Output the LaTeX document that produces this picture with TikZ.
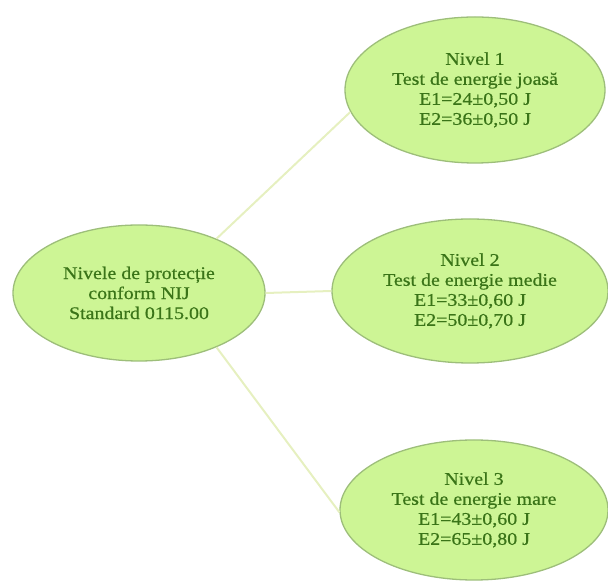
\documentclass[tikz,border=0pt]{standalone}
\usepackage{fontspec}
\setmainfont{Liberation Serif}[FakeStretch=1.12,FakeBold=0.6]
\usetikzlibrary{shapes.geometric}
\definecolor{efill}{HTML}{CDF595}
\definecolor{edraw}{HTML}{9DBE7A}
\definecolor{etext}{HTML}{3A7418}
\definecolor{lcol}{HTML}{E6F0C0}
\begin{document}
\begin{tikzpicture}[x=1pt,y=1pt,
  ell/.style={ellipse, draw=edraw, fill=efill, line width=1.3pt, inner sep=0pt,
    text=etext, align=center, font=\fontsize{17.8}{20}\selectfont},
  conn/.style={draw=lcol, line width=2pt}]
\useasboundingbox (0,0) rectangle (608,581);
\node[ell, minimum width=252, minimum height=136] (c) at (139,288) {Nivele de protecție\\conform NIJ\\Standard 0115.00};
\node[ell, minimum width=260, minimum height=146] (n1) at (475,491) {Nivel 1\\Test de energie joasă\\E1=24±0,50 J\\E2=36±0,50 J};
\node[ell, minimum width=276, minimum height=144] (n2) at (470,290) {Nivel 2\\Test de energie medie\\E1=33±0,60 J\\E2=50±0,70 J};
\node[ell, minimum width=268, minimum height=140] (n3) at (474,71) {Nivel 3\\Test de energie mare\\E1=43±0,60 J\\E2=65±0,80 J};
\draw[conn] (c.35) -- (n1.190);
\draw[conn] (c.east) -- (n2.west);
\draw[conn] (c.-35) -- (n3.181);
\end{tikzpicture}
\end{document}
